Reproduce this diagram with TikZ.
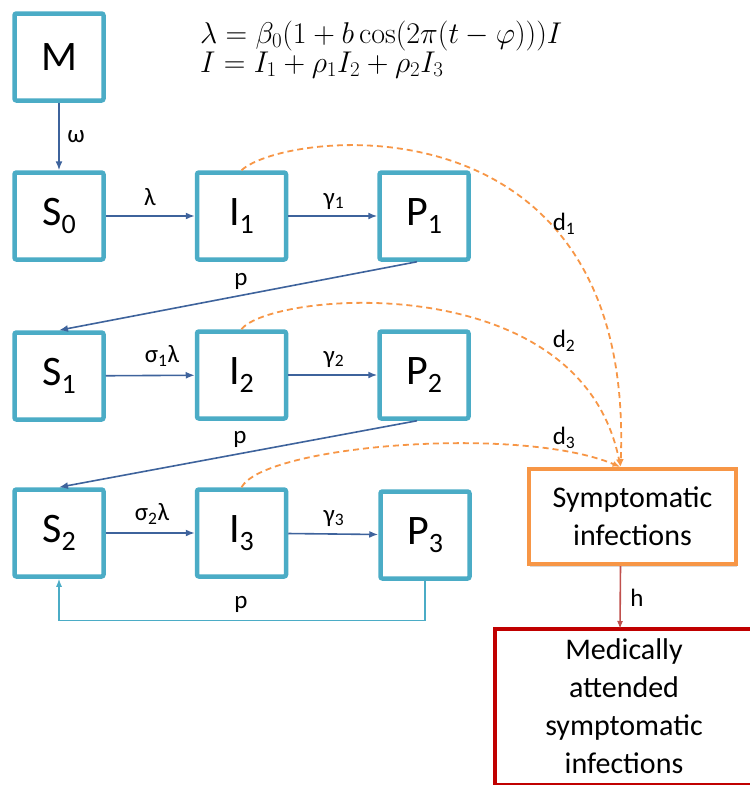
\RequirePackage{fix-cm}
\documentclass[tikz,border=0pt]{standalone}
\usepackage{amsmath}
\usepackage{fontspec}
\setmainfont{Carlito}
\setmathrm{Latin Modern Roman}
\usetikzlibrary{arrows.meta,calc,shadows}
\definecolor{boxblue}{HTML}{4BACC6}
\definecolor{arrblue}{HTML}{3E639C}
\definecolor{dorange}{HTML}{F79646}
\definecolor{dred}{HTML}{C00000}
\definecolor{hred}{HTML}{C0504D}
\newcommand\sbx[1]{\raisebox{-8pt}{\fontsize{28}{28}\selectfont #1}}
\tikzset{
  comp/.style={draw=boxblue, line width=4.5pt, rounded corners=2pt, minimum width=89pt, minimum height=87pt, inner sep=0pt, font=\fontsize{42}{48}\selectfont, fill=white},
  flow/.style={draw=arrblue, line width=1.6pt, -{Latex[length=9pt,width=7pt]}},
  lbl/.style={font=\fontsize{25}{28}\selectfont, inner sep=1pt},
  dflow/.style={draw=dorange, line width=1.8pt, dash pattern=on 6pt off 4pt, -{Latex[length=8pt,width=6pt]}},
  loopflow/.style={draw=boxblue, line width=1.4pt, -{Latex[length=8pt,width=6pt]}},
  hflow/.style={draw=hred, line width=1.6pt, -{Latex[length=8pt,width=6pt]}},
  txtbox/.style={align=center, font=\fontsize{30}{38}\selectfont, inner sep=0pt},
  eqn/.style={anchor=base west, inner sep=0pt, font=\fontsize{30}{34}\selectfont}
}
\begin{document}
\begin{tikzpicture}[x=1pt,y=-1pt]
\useasboundingbox (0,0) rectangle (750,785);
% formula
\node[eqn] (eq1) at (200,43) {$\lambda=\beta_0(1+b\cos(2\pi(t-\varphi)))I$};
\node[eqn] (eq2) at (200,72) {$I=I_1+\rho_1 I_2+\rho_2 I_3$};
% compartments
\node[comp] (M) at (59,57) {M};
\node[comp] (S0) at (59,216) {S\sbx{0}};
\node[comp] (I1) at (241.5,216) {I\sbx{1}};
\node[comp] (P1) at (424,216) {P\sbx{1}};
\node[comp] (S1) at (59,376) {S\sbx{1}};
\node[comp] (I2) at (241.5,375) {I\sbx{2}};
\node[comp] (P2) at (424,375) {P\sbx{2}};
\node[comp] (S2) at (59,533) {S\sbx{2}};
\node[comp] (I3) at (241.5,533) {I\sbx{3}};
\node[comp] (P3) at (425,535) {P\sbx{3}};
% outcome boxes
\node[txtbox, fill=white, draw=dorange, line width=4pt, minimum width=207pt, minimum height=95pt,
      drop shadow={shadow xshift=1pt, shadow yshift=-3pt, opacity=0.25, fill=black!60}] (Sym) at (632.5,516.5) {Symptomatic\\infections};
\begin{scope}
\clip (0,0) rectangle (750,785);
\draw[dred, line width=4pt] (770,629) -- (494.5,629) -- (494.5,784.5) -- (770,784.5);
\end{scope}
\coordinate (medtop) at (620,629);
\node[txtbox] (Med) at (624,706) {Medically\\attended\\symptomatic\\infections};
% flows
\draw[flow] (M) -- (S0);
\draw[flow] (S0) -- (I1);
\draw[flow] (I1) -- (P1);
\draw[flow] (S1) -- (I2);
\draw[flow] (I2) -- (P2);
\draw[flow] (S2) -- (I3);
\draw[flow] (I3) -- (P3);
\draw[flow] ([xshift=-7pt]P1.south) -- (S1.north);
\draw[flow] ([xshift=-7pt]P2.south) -- (S2.north);
\draw[loopflow] (P3.south) -- ++(0,40) -| (S2.south);
% dashed links
\coordinate (symin) at ([xshift=-12pt]Sym.north);
\draw[dflow] (I1.north) .. controls (285,130) and (635,90) .. (symin);
\draw[dflow] (I2.north) .. controls (270,292) and (580,265) .. (symin);
\draw[dflow] (I3.north) .. controls (265,445) and (520,425) .. (symin);
\draw[hflow] ([xshift=-12pt]Sym.south) -- (medtop);
% labels
\node[lbl] (lw) at (76,137) {ω};
\node[lbl] (ll) at (150,197) {λ};
\node[lbl] (lg1) at (334,201) {γ\textsubscript{1}};
\node[lbl] (lp1) at (241,281) {p};
\node[lbl] (ls1) at (162,356) {σ\textsubscript{1}λ};
\node[lbl] (lg2) at (334,359) {γ\textsubscript{2}};
\node[lbl] (lp2) at (240,439) {p};
\node[lbl] (ls2) at (152,514) {σ\textsubscript{2}λ};
\node[lbl] (lg3) at (334,518) {γ\textsubscript{3}};
\node[lbl] (lp3) at (241,604) {p};
\node[lbl] (ld1) at (564,224) {d\textsubscript{1}};
\node[lbl] (ld2) at (564,341) {d\textsubscript{2}};
\node[lbl] (ld3) at (564,438) {d\textsubscript{3}};
\node[lbl] (lh) at (637,598) {h};
\end{tikzpicture}
\end{document}
